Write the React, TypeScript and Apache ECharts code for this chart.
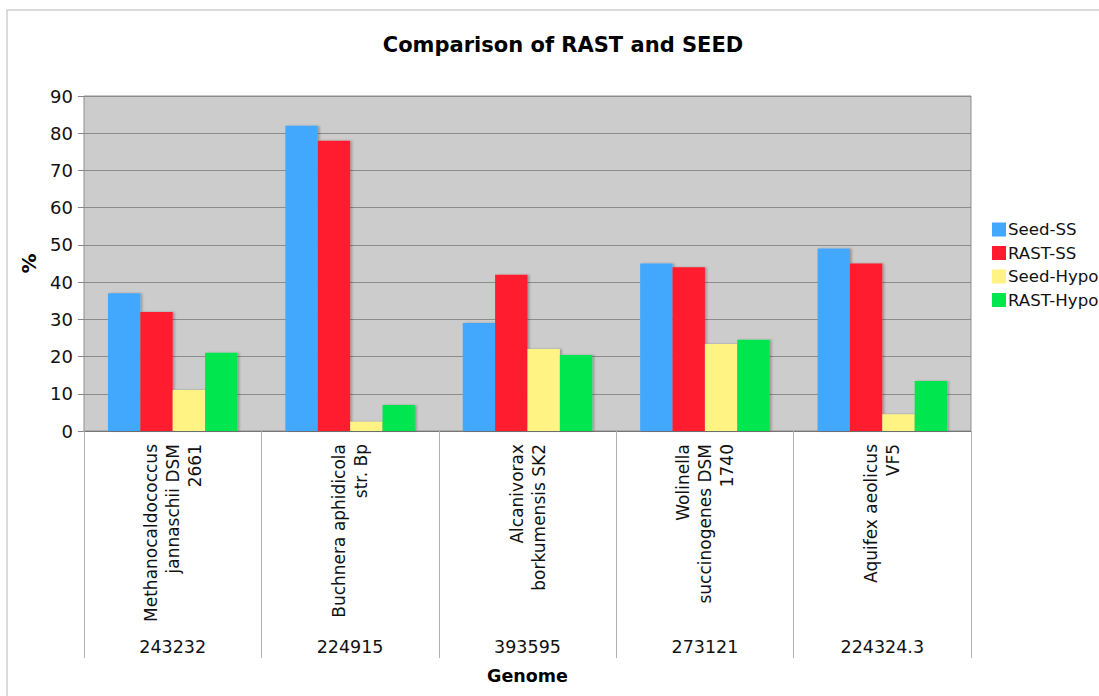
import React, { useEffect, useRef } from "react";
import * as echarts from "echarts";

const genomeNames = [
  "Methanocaldococcus\njannaschii DSM\n2661",
  "Buchnera aphidicola\nstr. Bp",
  "Alcanivorax\nborkumensis SK2",
  "Wolinella\nsuccinogenes DSM\n1740",
  "Aquifex aeolicus\nVF5",
];
const genomeIds = ["243232", "224915", "393595", "273121", "224324.3"];
const seriesNames = ["Seed-SS", "RAST-SS", "Seed-Hypo", "RAST-Hypo"];
const seedSS = [37, 82, 29, 45, 49];
const rastSS = [32, 78, 42, 44, 45];
const seedHypo = [11, 2.5, 22, 23.4, 4.5];
const rastHypo = [21, 7, 20.4, 24.5, 13.4];
const yTicks = { min: 0, max: 90, interval: 10 };
const colors = ["#42a8fe", "#fe1a2f", "#fff383", "#00e64f"];

export default function App() {
  const ref = useRef<HTMLDivElement>(null);
  useEffect(() => {
    if (!ref.current) return;
    const chart = echarts.init(ref.current, null, { renderer: "svg" });
    const font = "'DejaVu Sans', Verdana, sans-serif";
    const values = [seedSS, rastSS, seedHypo, rastHypo];
    chart.setOption({
      animation: false,
      backgroundColor: "#ffffff",
      textStyle: { fontFamily: font },
      title: {
        text: "Comparison of RAST and SEED",
        left: 558,
        top: 29,
        textAlign: "center",
        textStyle: { fontFamily: font, fontSize: 21, fontWeight: "bold", color: "#000" },
      },
      graphic: [
        {
          type: "rect",
          shape: { x: 7, y: 10, width: 1200, height: 720 },
          style: { fill: "none", stroke: "#cfcfcf", lineWidth: 1.5 },
          silent: true,
          z: -10,
        },
      ],
      legend: {
        orient: "vertical",
        left: 987,
        top: 216,
        itemWidth: 14,
        itemHeight: 14,
        itemGap: 6.5,
        icon: "rect",
        data: seriesNames,
        textStyle: { fontFamily: font, fontSize: 16.6, color: "#111", padding: [0, 0, 0, -3] },
      },
      grid: {
        left: 84,
        right: 128,
        top: 96,
        bottom: 265,
        show: true,
        backgroundColor: "#cccccc",
        borderColor: "#8f8f8f",
        borderWidth: 1,
      },
      xAxis: [
        {
          type: "category",
          data: genomeNames,
          position: "bottom",
          axisLine: { show: true, lineStyle: { color: "#777", width: 1.2 } },
          axisTick: { show: true, length: 227, lineStyle: { color: "#b0b0b0", width: 1 } },
          axisLabel: {
            rotate: 90,
            margin: 13,
            fontSize: 17,
            lineHeight: 22,
            color: "#111",
            fontFamily: font,
            interval: 0,
          },
        },
        {
          type: "category",
          data: genomeIds,
          position: "bottom",
          axisLine: { show: false },
          axisTick: { show: false },
          axisLabel: { margin: 207, fontSize: 17.5, color: "#111", fontFamily: font, interval: 0 },
          name: "Genome",
          nameLocation: "middle",
          nameGap: 236,
          nameTextStyle: { fontFamily: font, fontSize: 17.5, fontWeight: "bold", color: "#000" },
        },
      ],
      yAxis: {
        type: "value",
        min: yTicks.min,
        max: yTicks.max,
        interval: yTicks.interval,
        name: "%",
        nameLocation: "middle",
        nameGap: 42,
        nameTextStyle: { fontFamily: font, fontSize: 20, fontWeight: "bold", color: "#000" },
        axisLine: { show: false },
        axisTick: { show: true, length: 6, lineStyle: { color: "#888" } },
        axisLabel: { fontSize: 18, color: "#111", margin: 11, fontFamily: font },
        splitLine: { show: true, lineStyle: { color: "#8c8c8c", width: 1 } },
      },
      series: seriesNames.map((name, i) => ({
        name,
        type: "bar",
        xAxisIndex: 0,
        data: values[i],
        barGap: "0%",
        barCategoryGap: "27%",
        itemStyle: {
          color: colors[i],
          shadowColor: "rgba(0,0,0,0.25)",
          shadowOffsetX: 2,
          shadowOffsetY: 0,
          shadowBlur: 2,
        },
      })),
    });
    return () => chart.dispose();
  }, []);
  return (
    <div
      ref={ref}
      style={{ position: "fixed", left: 0, top: 0, width: 1099, height: 696 }}
    />
  );
}
